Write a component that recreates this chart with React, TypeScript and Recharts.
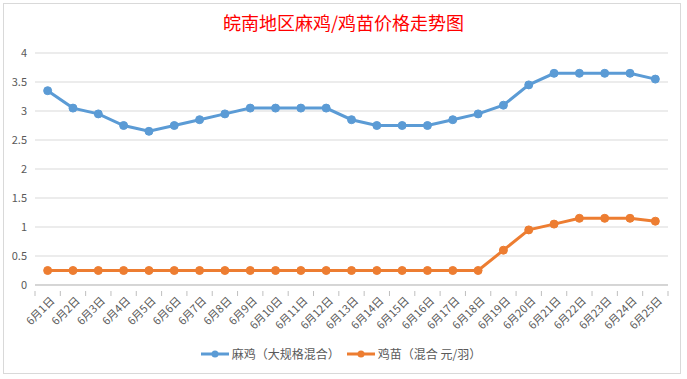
import React from 'react';
import { LineChart, Line, XAxis, YAxis, CartesianGrid } from 'recharts';

// 日期
const dates = [
  '6月1日', '6月2日', '6月3日', '6月4日', '6月5日', '6月6日', '6月7日', '6月8日', '6月9日',
  '6月10日', '6月11日', '6月12日', '6月13日', '6月14日', '6月15日', '6月16日', '6月17日',
  '6月18日', '6月19日', '6月20日', '6月21日', '6月22日', '6月23日', '6月24日', '6月25日',
];

// 麻鸡（大规格混合）
const maji = [
  3.35, 3.05, 2.95, 2.75, 2.65, 2.75, 2.85, 2.95, 3.05, 3.05, 3.05, 3.05, 2.85,
  2.75, 2.75, 2.75, 2.85, 2.95, 3.1, 3.45, 3.65, 3.65, 3.65, 3.65, 3.55,
];

// 鸡苗（混合 元/羽）
const jimiao = [
  0.25, 0.25, 0.25, 0.25, 0.25, 0.25, 0.25, 0.25, 0.25, 0.25, 0.25, 0.25, 0.25,
  0.25, 0.25, 0.25, 0.25, 0.25, 0.6, 0.95, 1.05, 1.15, 1.15, 1.15, 1.1,
];

const yTicks = [0, 0.5, 1, 1.5, 2, 2.5, 3, 3.5, 4];

const data = dates.map((d, i) => ({ date: d, maji: maji[i], jimiao: jimiao[i] }));

const FONT = '"Noto Sans CJK SC", "Noto Sans", sans-serif';
const BLUE = '#5B9BD5';
const ORANGE = '#ED7D31';
const PLOT_W = 633;
const STEP = PLOT_W / dates.length;

function DateTick(props: any) {
  const { x, y, payload, index } = props;
  const axisY = y - 2;
  return (
    <g>
      <line x1={x - STEP / 2} y1={axisY} x2={x - STEP / 2} y2={axisY + 5} stroke="#bfbfbf" />
      {index === dates.length - 1 && (
        <line x1={x + STEP / 2} y1={axisY} x2={x + STEP / 2} y2={axisY + 5} stroke="#bfbfbf" />
      )}
      <text
        x={x + 4}
        y={y + 5}
        transform={`rotate(-45, ${x + 4}, ${y + 5})`}
        textAnchor="end"
        dominantBaseline="central"
        fontSize={11}
        fill="#595959"
        fontFamily={FONT}
      >
        {payload.value}
      </text>
    </g>
  );
}

function LegendItem({ color, label }: { color: string; label: string }) {
  return (
    <span style={{ display: 'inline-flex', alignItems: 'center', marginRight: 6 }}>
      <svg width={30} height={10} style={{ marginRight: 2 }}>
        <line x1={1} y1={5} x2={29} y2={5} stroke={color} strokeWidth={3} />
        <circle cx={15} cy={5} r={3.5} fill={color} />
      </svg>
      {label}
    </span>
  );
}

export default function App() {
  return (
    <div style={{ position: 'absolute', left: 0, top: 0, width: 687, height: 379, background: '#fff', fontFamily: FONT }}>
      <div
        style={{
          position: 'absolute', left: 3, top: 3, width: 678, height: 371,
          border: '1px solid #d9d9d9', boxSizing: 'border-box',
        }}
      />
      <div
        style={{
          position: 'absolute', left: 0, top: 10, width: 687, textAlign: 'center',
          color: '#FF0000', fontSize: 18, lineHeight: '24px',
        }}
      >
        皖南地区麻鸡/鸡苗价格走势图
      </div>
      <LineChart
        width={687}
        height={379}
        data={data}
        margin={{ top: 53, right: 19, left: 0, bottom: 34 }}
        style={{ position: 'absolute', left: 0, top: 0 }}
      >
        <CartesianGrid vertical={false} stroke="#d9d9d9" />
        <XAxis
          dataKey="date"
          interval={0}
          height={60}
          padding={{ left: STEP / 2, right: STEP / 2 }}
          tick={<DateTick />}
          tickLine={false}
          axisLine={{ stroke: '#bfbfbf' }}
        />
        <YAxis
          width={35}
          domain={[0, 4]}
          ticks={yTicks}
          axisLine={false}
          tickLine={false}
          tick={{ fontSize: 11, fill: '#595959', fontFamily: FONT }}
        />
        <Line
          dataKey="maji"
          stroke={BLUE}
          strokeWidth={3}
          dot={{ r: 4, fill: BLUE, stroke: BLUE, strokeWidth: 1 }}
          isAnimationActive={false}
        />
        <Line
          dataKey="jimiao"
          stroke={ORANGE}
          strokeWidth={3}
          dot={{ r: 4, fill: ORANGE, stroke: ORANGE, strokeWidth: 1 }}
          isAnimationActive={false}
        />
      </LineChart>
      <div
        style={{
          position: 'absolute', left: 0, top: 344, width: 687, textAlign: 'center',
          fontSize: 12, color: '#595959', lineHeight: '20px',
        }}
      >
        <LegendItem color={BLUE} label="麻鸡（大规格混合）" />
        <LegendItem color={ORANGE} label="鸡苗（混合 元/羽）" />
      </div>
    </div>
  );
}
